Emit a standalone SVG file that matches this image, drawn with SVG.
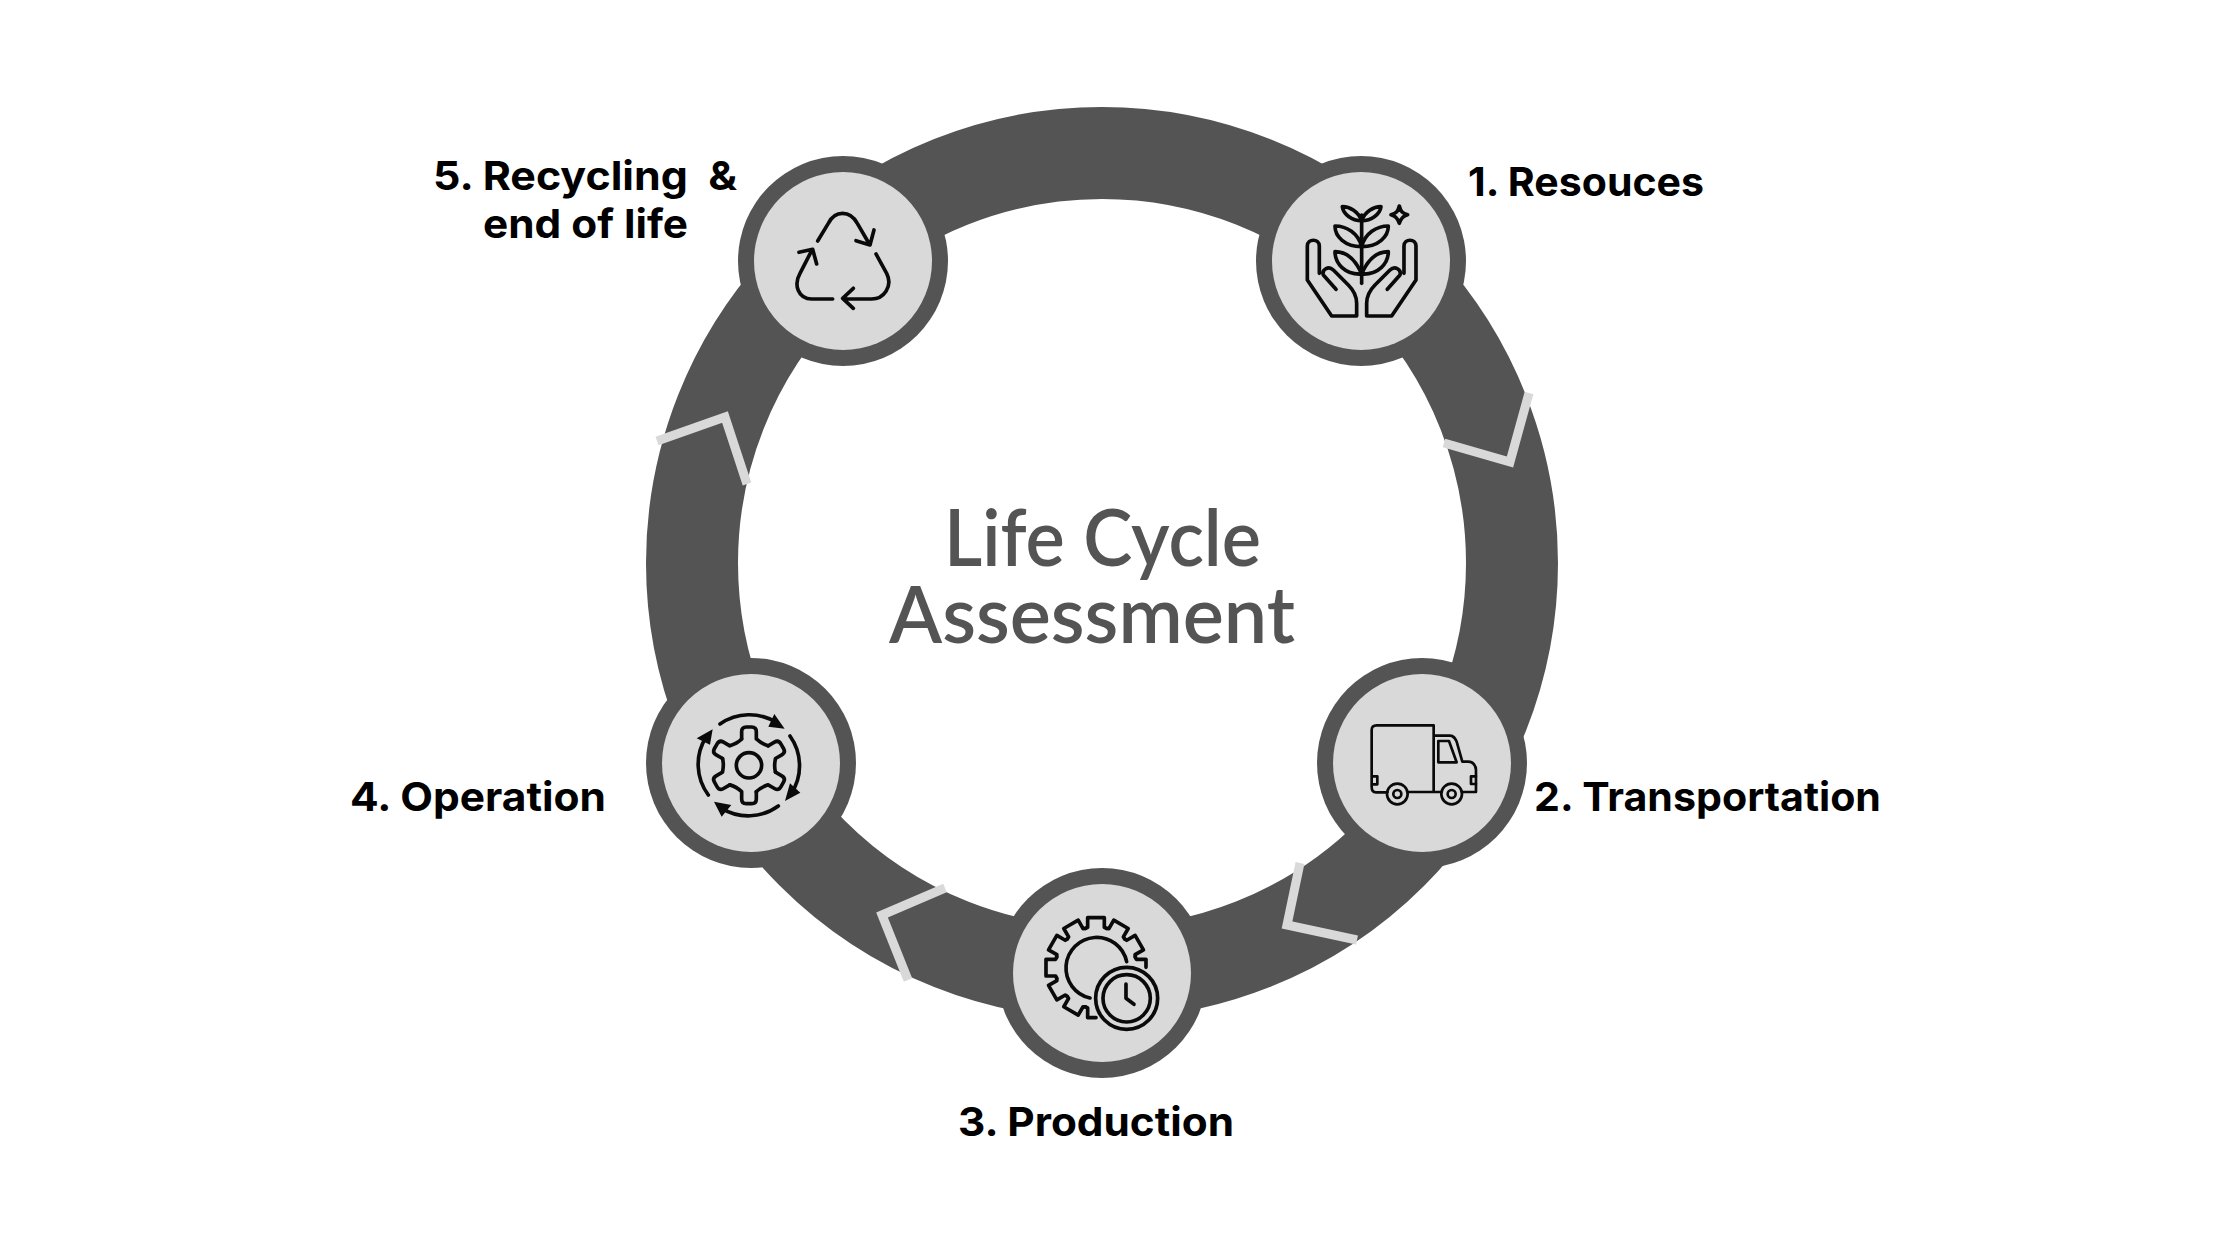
<svg xmlns="http://www.w3.org/2000/svg" xmlns:xlink="http://www.w3.org/1999/xlink" width="2232" height="1255" viewBox="0 0 2232 1255">
<style>
.halo{fill:#545454}
.disc{fill:#d9d9d9}
.chev{fill:none;stroke:#d9d9d9;stroke-width:9;stroke-linejoin:miter}
.ic{fill:none;stroke:#0a0a0a;stroke-width:11;stroke-linecap:round;stroke-linejoin:round}
.thin{stroke-width:8}
.head{fill:#0a0a0a;stroke:none}
.lab{font-family:"Inter","Liberation Sans",sans-serif;font-weight:700;font-size:40px;fill:#000;font-variant-ligatures:none}
.title{font-family:"Lato","Liberation Sans",sans-serif;font-weight:600;font-size:78px;fill:#545454;font-variant-ligatures:none}
</style>
<defs>
<path id="tooth3" d="M316.4 235.2L323 232V203H373V232L379.6 235.2"/>
<path id="tooth4" d="M335 297V275Q335 261 349 261H365Q379 261 379 275V297Q397 313 414.4 317.4"/>
</defs>
<rect width="2232" height="1255" fill="#fff"/>
<g id="connectors">
<circle cx="1102" cy="563" r="410" fill="none" stroke="#545454" stroke-width="92"/>
<path class="chev" d="M657 441L725 417L747 484"/>
<path class="chev" d="M1444 443L1510 462L1529 393"/>
<path class="chev" d="M1300 863L1287 925L1357 940"/>
<path class="chev" d="M945 888L882 915L908 980"/>
</g>
<g id="node-1">
<circle class="halo" cx="1361" cy="261" r="105"/><circle class="disc" cx="1361" cy="261" r="89"/>
<g class="ic" transform="translate(1230 130) scale(.3333)">
<path d="M395 255V460"/>
<path d="M395 272C385 245 360 230 337 230C340 252 365 272 395 272ZM395 272C405 245 430 230 453 230C450 252 425 272 395 272Z"/>
<path d="M395 350C385 310 350 288 315 288C315 320 345 350 395 350ZM395 350C405 310 440 288 475 288C475 320 445 350 395 350Z"/>
<path d="M395 432C375 385 345 365 315 365C315 400 345 435 395 432ZM395 432C415 385 445 365 475 365C475 400 445 435 395 432Z"/>
<path d="M508 228C512 245 518 250 533 254C518 258 512 265 508 280C504 265 498 258 483 254C498 250 504 245 508 228Z"/>
<path d="M380 558H305L232 450V348C232 325 268 325 268 348V430M318 478L280 435C275 420 295 405 310 420L355 465C370 480 380 495 380 520V558"/>
<path d="M410 558H485L558 450V348C558 325 522 325 522 348V430M472 478L510 435C515 420 495 405 480 420L435 465C420 480 410 495 410 520V558"/>
</g>
</g>
<g id="node-2">
<circle class="halo" cx="1422" cy="763" r="105"/><circle class="disc" cx="1422" cy="763" r="89"/>
<g class="ic thin" transform="translate(1300 640) scale(.3333)">
<path d="M262 457H228C218 457 215 450 215 440V270C215 260 222 256 230 256H401V456M325 456H425M401 287H450C462 287 465 295 470 305L487 365H505C520 365 528 378 528 390V456H487"/>
<path d="M415 303H447L470 367H415Z"/>
<circle cx="292" cy="462" r="31"/><circle cx="292" cy="462" r="12"/>
<circle cx="455" cy="462" r="31"/><circle cx="455" cy="462" r="12"/>
<path d="M218 409H232V433H218M528 409H513V432H528"/>
</g>
</g>
<g id="node-3">
<circle class="halo" cx="1102" cy="973" r="105"/><circle class="disc" cx="1102" cy="973" r="89"/>
<g class="ic" transform="translate(980 850) scale(.3333)">
<use href="#tooth3"/>
<use href="#tooth3" transform="rotate(30 348 353)"/>
<use href="#tooth3" transform="rotate(60 348 353)"/>
<use href="#tooth3" transform="rotate(-30 348 353)"/>
<use href="#tooth3" transform="rotate(-60 348 353)"/>
<use href="#tooth3" transform="rotate(-90 348 353)"/>
<use href="#tooth3" transform="rotate(-120 348 353)"/>
<use href="#tooth3" transform="rotate(-150 348 353)"/>
<path d="M466 321L469 328H498V352M316.4 470.8L323 474V503H348"/>
<path d="M440 335A92 92 0 1 0 330 444"/>
<circle cx="440" cy="445" r="93"/><circle cx="440" cy="445" r="71"/>
<path d="M438 402V445L462 463"/>
</g>
</g>
<g id="node-4">
<circle class="halo" cx="751" cy="763" r="105"/><circle class="disc" cx="751" cy="763" r="89"/>
<g class="ic" transform="translate(630 640) scale(.3333)">
<use href="#tooth4"/>
<use href="#tooth4" transform="rotate(60 357 376)"/>
<use href="#tooth4" transform="rotate(120 357 376)"/>
<use href="#tooth4" transform="rotate(180 357 376)"/>
<use href="#tooth4" transform="rotate(240 357 376)"/>
<use href="#tooth4" transform="rotate(300 357 376)"/>
<circle cx="357" cy="376" r="38"/>
<path d="M270 252A153 153 0 0 1 440 248M480 288A153 153 0 0 1 483 462M445 498A153 153 0 0 1 275 505M235 465A153 153 0 0 1 228 292"/>
<path class="head" d="M433 222L464 266L415 260ZM465 483L511 458L480 430ZM252 485L304 495L275 530ZM248 268L200 295L240 314Z"/>
</g>
</g>
<g id="node-5">
<circle class="halo" cx="843" cy="261" r="105"/><circle class="disc" cx="843" cy="261" r="89"/>
<g class="ic" transform="translate(720 130) scale(.3333)">
<path d="M293 333L325 280C345 240 390 240 412 280L448 342M462 300L450 345L408 332"/>
<path d="M468 372L500 430C520 470 490 507 455 507H370M400 475L368 505L400 535"/>
<path d="M338 507H275C235 507 220 465 240 430L275 362M237 367L278 358L290 402"/>
</g>
</g>
<g id="labels">
<text class="title" x="944" y="566" textLength="317" lengthAdjust="spacingAndGlyphs">Life Cycle</text>
<text class="title" x="889" y="643" textLength="406" lengthAdjust="spacingAndGlyphs">Assessment</text>
<text class="lab" x="1468" y="196" textLength="236" lengthAdjust="spacingAndGlyphs">1. Resouces</text>
<text class="lab" x="433" y="190" textLength="304" lengthAdjust="spacingAndGlyphs" xml:space="preserve">5. Recycling  &amp;</text>
<text class="lab" x="483" y="238" textLength="205" lengthAdjust="spacingAndGlyphs">end of life</text>
<text class="lab" x="350" y="811" textLength="256" lengthAdjust="spacingAndGlyphs">4. Operation</text>
<text class="lab" x="1534" y="811" textLength="347" lengthAdjust="spacingAndGlyphs">2. Transportation</text>
<text class="lab" x="958" y="1136" textLength="276" lengthAdjust="spacingAndGlyphs">3. Production</text>
</g>
</svg>
